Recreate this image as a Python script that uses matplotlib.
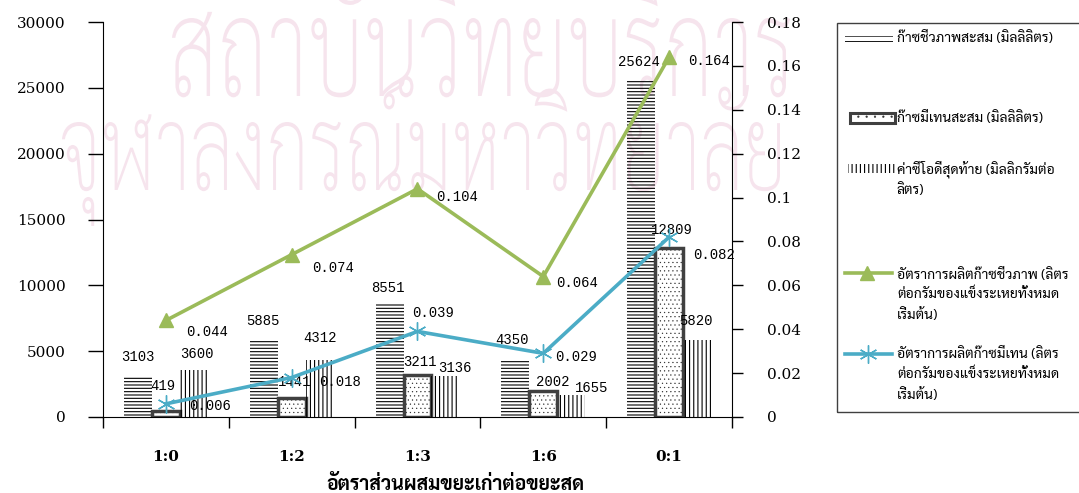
import matplotlib
matplotlib.use("Agg")
import numpy as np
import matplotlib.pyplot as plt
from matplotlib.patches import Rectangle, PathPatch
from matplotlib.lines import Line2D
from matplotlib.textpath import TextPath
from matplotlib.font_manager import FontProperties
from matplotlib.transforms import Affine2D
from matplotlib.ticker import FuncFormatter, MultipleLocator

# อัตราส่วนผสมขยะเก่าต่อขยะสด
ratios = ["1:0", "1:2", "1:3", "1:6", "0:1"]
biogas_ml = [3103, 5885, 8551, 4350, 25624]
methane_ml = [419, 1441, 3211, 2002, 12809]
cod_final = [3600, 4312, 3136, 1655, 5820]
biogas_rate = [0.044, 0.074, 0.104, 0.064, 0.164]
methane_rate = [0.006, 0.018, 0.039, 0.029, 0.082]

legend_biogas = ["ก๊าซชีวภาพสะสม (มิลลิลิตร)"]
legend_methane = ["ก๊าซมีเทนสะสม (มิลลิลิตร)"]
legend_cod = ["ค่าซีโอดีสุดท้าย (มิลลิกรัมต่อ", "ลิตร)"]
legend_bio_rate = ["อัตราการผลิตก๊าซชีวภาพ (ลิตร", "ต่อกรัมของแข็งระเหยทั้งหมด", "เริ่มต้น)"]
legend_met_rate = ["อัตราการผลิตก๊าซมีเทน (ลิตร", "ต่อกรัมของแข็งระเหยทั้งหมด", "เริ่มต้น)"]
xlabel = "อัตราส่วนผสมขยะเก่าต่อขยะสด"
watermark = ["สถาบันวิทยบริการ", "จุฬาลงกรณ์มหาวิทยาลัย"]

# label offsets in pixels (dx, dy) from bar top / marker
off_biogas = [(0, 19), (-1, 19), (-2, 16), (-3, 20), (-2, 18)]
off_methane = [(-3, 25), (3, 16), (2, 13), (9, 9), (3, 18)]
off_cod = [(3, 16), (0, 22), (9, 8), (20, 7), (-1, 19)]
off_bio_rate = [(41, -12), (41, -13), (40, -8), (34, -6), (40, -4)]
off_met_rate = [(44, -2), (48, -4), (16, 18), (33, -4), (45, -18)]

THAI = ["Sarabun", "Noto Sans Thai", "Athiti", "DejaVu Sans"]
GREEN = "#9BBB59"
BLUE = "#4BACC6"
PINK = "#f6e4ed"

plt.rcParams["hatch.linewidth"] = 0.8

W, H = 1079, 493
fig = plt.figure(figsize=(W / 100, H / 100), dpi=100)


def fx(px):
    return px / W


def fy(py):
    return 1 - py / H


def thin_hatch(patches, lw):
    for p in patches:
        if hasattr(p, "set_hatch_linewidth"):
            p.set_hatch_linewidth(lw)


# faint watermark behind the plot, stretched into a box (pixels, top-left origin)
thai_fp = FontProperties(family=THAI, weight="light")
cons_h = TextPath((0, 0), "ก", size=100, prop=thai_fp).get_extents().y1
for s, (left, right, top, base) in zip(watermark, [(172, 790, 18, 96), (62, 780, 122, 190)]):
    tp = TextPath((0, 0), s, size=100, prop=thai_fp)
    ext = tp.get_extents()
    sx = (right - left) / ext.width
    sy = (base - top) / cons_h
    tr = Affine2D().scale(sx, sy).translate(left - ext.x0 * sx, H - base)
    fig.add_artist(PathPatch(tp, transform=tr, facecolor=PINK, edgecolor="none", zorder=-5))

ax = fig.add_axes([fx(103), fy(417), fx(732) - fx(103), fy(22) - fy(417)])
ax.patch.set_visible(False)
ax2 = ax.twinx()
ax2.patch.set_visible(False)

x = np.arange(len(ratios))
bw = 0.2225

ax.bar(x - bw, biogas_ml, bw, facecolor="none", edgecolor="black", linewidth=0, hatch="-----")
dots = ax.bar(x, methane_ml, bw, facecolor="white", edgecolor="#303030", linewidth=0, hatch="....")
thin_hatch(dots, 0.35)
ax.bar(x, methane_ml, bw, fill=False, edgecolor="#404040", linewidth=2.5)
ax.bar(x + bw, cod_final, bw, facecolor="none", edgecolor="black", linewidth=0, hatch="||||")

lbl = dict(family="Liberation Mono", fontsize=10, ha="center", va="center",
           textcoords="offset pixels")
for xs, vals, offs in ((x - bw, biogas_ml, off_biogas), (x, methane_ml, off_methane),
                       (x + bw, cod_final, off_cod)):
    for xi, v, o in zip(xs, vals, offs):
        ax.annotate(str(v), (xi, v), xytext=o, **lbl)

ax2.plot(x, biogas_rate, color=GREEN, lw=2.6, marker="^", ms=10, zorder=4)
ax2.plot(x, methane_rate, color=BLUE, lw=2.6, marker=(6, 2, 0), ms=13, mew=1.0, zorder=4)
for vals, offs in ((biogas_rate, off_bio_rate), (methane_rate, off_met_rate)):
    for xi, v, o in zip(x, vals, offs):
        ax2.annotate(f"{v:g}", (xi, v), xytext=o, zorder=3, **lbl)

ax.set_xlim(-0.5, len(ratios) - 0.5)
ax.set_ylim(0, 30000)
ax2.set_ylim(0, 0.18)
ax.yaxis.set_major_locator(MultipleLocator(5000))
ax2.yaxis.set_major_locator(MultipleLocator(0.02))
ax2.yaxis.set_major_formatter(FuncFormatter(lambda v, p: f"{v:g}"))

ax.set_xticks(np.arange(-0.5, len(ratios), 1.0))
ax.set_xticklabels([])
ax.set_xticks(x, minor=True)
ax.set_xticklabels(ratios, minor=True, family="DejaVu Serif", fontweight="bold", fontsize=11)
ax.tick_params(axis="x", which="major", direction="out", length=8, width=1)
ax.tick_params(axis="x", which="minor", length=0, pad=24)
ax.tick_params(axis="y", direction="out", length=11, width=1, pad=16)
ax2.tick_params(axis="y", direction="out", length=8, width=1, pad=17)
for t in ax.get_yticklabels() + ax2.get_yticklabels():
    t.set_family("DejaVu Serif")
    t.set_fontsize(11)

for s in ("top", "right"):
    ax.spines[s].set_visible(False)
for s in ("top", "left", "bottom"):
    ax2.spines[s].set_visible(False)

fig.text(fx(455), fy(485), xlabel, family=THAI, fontweight="bold", fontsize=14,
         ha="center", va="center")

# legend drawn by hand on the right
fig.patches.append(Rectangle((fx(837), fy(412)), fx(1100) - fx(837), fy(23) - fy(412),
                             transform=fig.transFigure, fill=False, edgecolor="#404040",
                             lw=1, clip_on=False))
fig.patches.append(Rectangle((fx(845), fy(42)), fx(893) - fx(845), fy(36) - fy(42),
                             transform=fig.transFigure, facecolor="none", edgecolor="black",
                             lw=0, hatch="---"))
key_dots = Rectangle((fx(850), fy(123)), fx(895) - fx(850), fy(113) - fy(123),
                     transform=fig.transFigure, facecolor="white", edgecolor="#303030",
                     lw=0, hatch="..")
thin_hatch([key_dots], 0.35)
fig.patches.append(key_dots)
fig.patches.append(Rectangle((fx(850), fy(123)), fx(895) - fx(850), fy(113) - fy(123),
                             transform=fig.transFigure, fill=False, edgecolor="#404040", lw=2.2))
fig.patches.append(Rectangle((fx(848), fy(173)), fx(895) - fx(848), fy(164) - fy(173),
                             transform=fig.transFigure, facecolor="none", edgecolor="black",
                             lw=0, hatch="||||"))
fig.lines.append(Line2D([fx(845), fx(892)], [fy(273), fy(273)], transform=fig.transFigure,
                        color=GREEN, lw=2.6))
fig.lines.append(Line2D([fx(867)], [fy(273)], transform=fig.transFigure, color=GREEN,
                        marker="^", ms=10))
fig.lines.append(Line2D([fx(845), fx(892)], [fy(354), fy(354)], transform=fig.transFigure,
                        color=BLUE, lw=2.6))
fig.lines.append(Line2D([fx(868)], [fy(354)], transform=fig.transFigure, color=BLUE,
                        marker=(6, 2, 0), ms=13, mew=1.0))

renderer = fig.canvas.get_renderer()
legend_texts = []
for lines, ys in ((legend_biogas, [38]), (legend_methane, [118]), (legend_cod, [169, 190]),
                  (legend_bio_rate, [275, 294, 315]), (legend_met_rate, [354, 374, 395])):
    for s, y in zip(lines, ys):
        legend_texts.append(fig.text(fx(897), fy(y), s, family=THAI, fontsize=10,
                                     ha="left", va="center"))
widest = max(t.get_window_extent(renderer).width for t in legend_texts)
for t in legend_texts:
    t.set_fontsize(10 * min(1.0, 178 / widest))

fig.savefig("out.png", dpi=100)
